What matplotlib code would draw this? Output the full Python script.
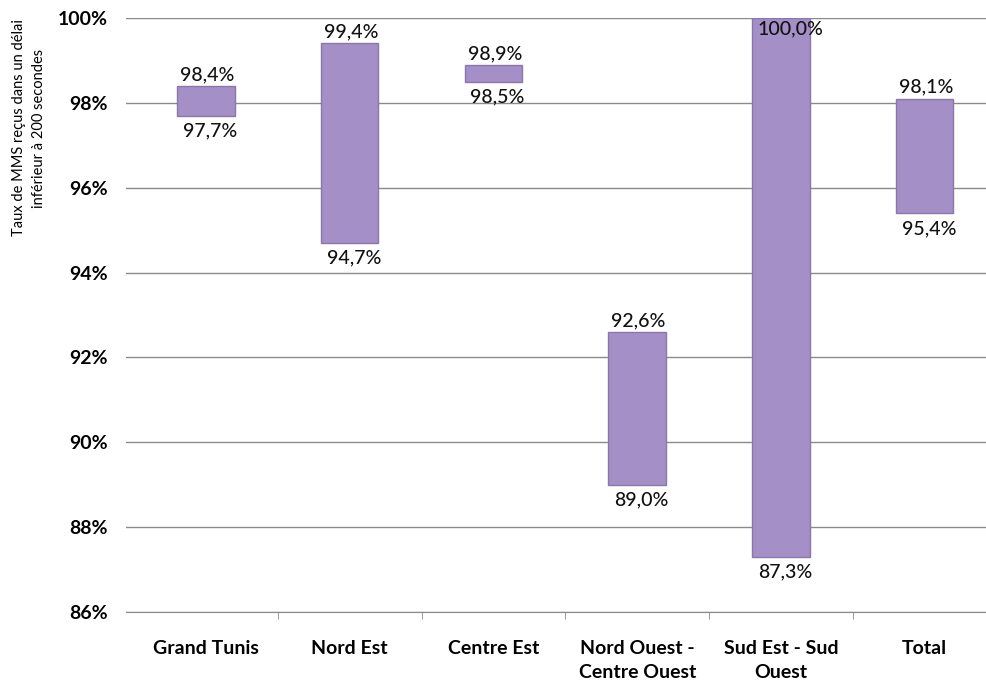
import numpy as np
import matplotlib
matplotlib.use("Agg")
import matplotlib.pyplot as plt
from matplotlib.ticker import FuncFormatter

plt.rcParams['font.family'] = ['Lato', 'DejaVu Sans']

# données
regions = ["Grand Tunis", "Nord Est", "Centre Est", "Nord Ouest -\nCentre Ouest",
           "Sud Est - Sud\nOuest", "Total"]
val_min = [97.7, 94.7, 98.5, 89.0, 87.3, 95.4]
val_max = [98.4, 99.4, 98.9, 92.6, 100.0, 98.1]
yticks = [86, 88, 90, 92, 94, 96, 98, 100]

def fmt(v):
    return f"{v:.1f}%".replace(".", ",")

fig = plt.figure(figsize=(9.87, 6.91), dpi=100)
ax = fig.add_axes([126/987, 1-612/691, 1-126/987, (612-18)/691])

x = np.arange(len(regions))
low = np.array(val_min)
high = np.array(val_max)
ax.bar(x, high-low, bottom=low, width=0.4, color='#A48FC6',
       edgecolor='#8A76AC', linewidth=1, zorder=3)

for xi, lo, hi in zip(x, low, high):
    if hi >= 99.95:
        # pas de place au dessus -> dans la barre
        ax.annotate(fmt(hi), (xi, hi), xytext=(7, -2), textcoords='offset points',
                    ha='center', va='top', fontsize=14, fontweight='medium',
                    color='#111111', zorder=4)
    else:
        ax.annotate(fmt(hi), (xi, hi), xytext=(1, 2), textcoords='offset points',
                    ha='center', va='bottom', fontsize=14, fontweight='medium',
                    color='#111111', zorder=4)
    ax.annotate(fmt(lo), (xi, lo), xytext=(3, -5), textcoords='offset points',
                ha='center', va='top', fontsize=14, fontweight='medium',
                color='#111111', zorder=4)

ax.set_ylim(86, 100)
ax.set_yticks(yticks)
ax.yaxis.set_major_formatter(FuncFormatter(lambda v, p: f"{v:.0f}%"))
ax.grid(axis='y', color='#8a8a8a', linewidth=1, zorder=0)
ax.tick_params(axis='y', length=0, pad=13, labelsize=14)
for lab in ax.get_yticklabels():
    lab.set_fontweight('bold')

ax.set_xlim(-80/143.75, (987-206)/143.75)
ax.set_xticks(x)
ax.set_xticklabels(regions, fontsize=14, fontweight='bold', linespacing=1.55, va='top')
ax.tick_params(axis='x', length=0, pad=20)
ax.set_xticks(np.arange(0.5, len(regions)-0.5, 1), minor=True)
ax.tick_params(axis='x', which='minor', length=5, direction='out', color='#8a8a8a')

for s in ['left', 'right', 'top']:
    ax.spines[s].set_visible(False)
ax.spines['bottom'].set_color('#8a8a8a')

fig.text(29/987, 1-128/691, "Taux de MMS reçus dans un délai\ninférieur à 200 secondes",
         rotation=90, ha='center', va='center', fontsize=10.5, linespacing=1.5)

fig.savefig("out.png", dpi=100)
